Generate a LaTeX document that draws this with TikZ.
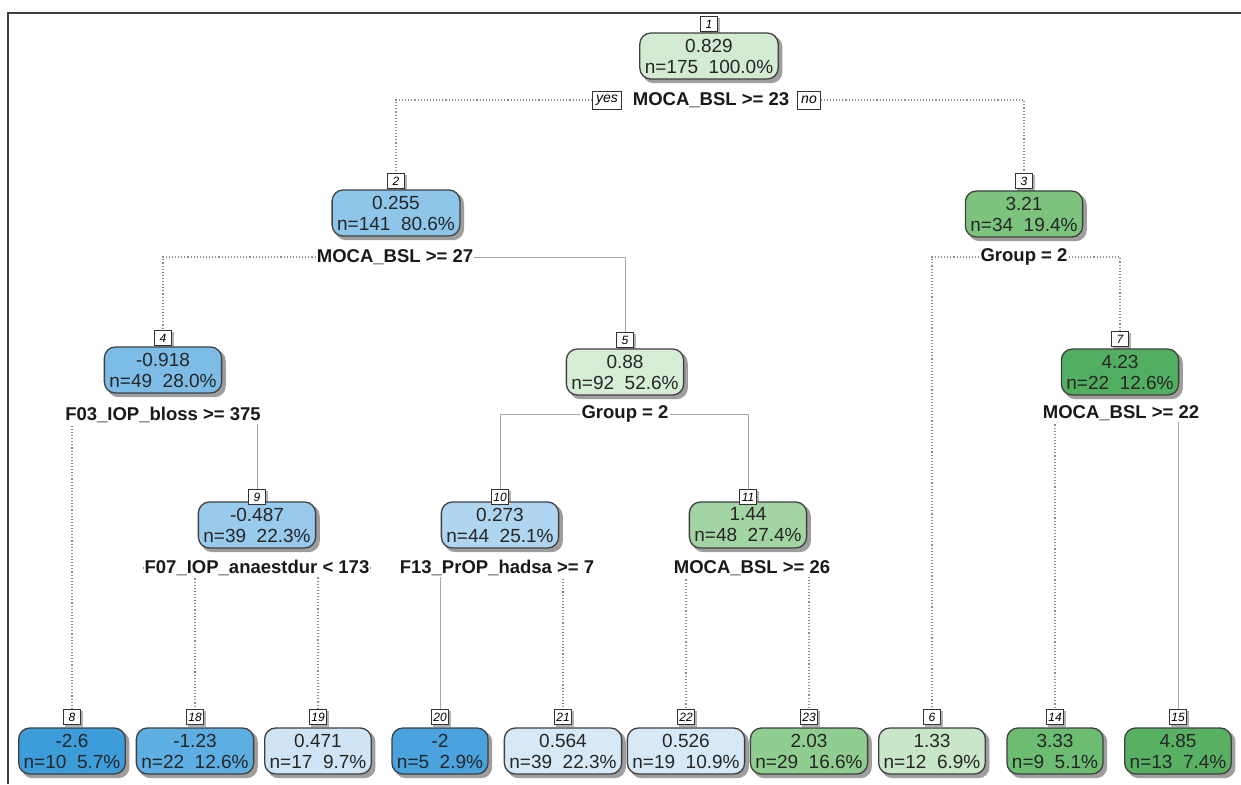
\documentclass[tikz,border=0pt]{standalone}
\usepackage{fontspec}
\setmainfont{Liberation Sans}
\usetikzlibrary{backgrounds}
\definecolor{g1}{HTML}{D3EAD3}
\definecolor{g5}{HTML}{D6EDD6}
\definecolor{g11}{HTML}{A3D4A3}
\definecolor{g3}{HTML}{7CC47E}
\definecolor{g7}{HTML}{52AF62}
\definecolor{g23}{HTML}{90CD90}
\definecolor{g6}{HTML}{C8E6C8}
\definecolor{g14}{HTML}{6CBC72}
\definecolor{g15}{HTML}{58B163}
\definecolor{b2}{HTML}{8EC6EA}
\definecolor{b4}{HTML}{7CBCE7}
\definecolor{b9}{HTML}{98CAEC}
\definecolor{b10}{HTML}{AFD5F0}
\definecolor{b8}{HTML}{3D9DDB}
\definecolor{b20}{HTML}{4AA3DE}
\definecolor{b18}{HTML}{5DAEE2}
\definecolor{b19}{HTML}{CFE4F4}
\definecolor{b21}{HTML}{D7E9F6}
\definecolor{b22}{HTML}{D7E9F6}
\begin{document}
\begin{tikzpicture}[x=1pt,y=-1pt,
  box/.style={draw=black!75, line width=1.3pt, rounded corners=11pt, align=center,
    font=\fontsize{19}{21}\selectfont, text=black!85, inner xsep=5pt, inner ysep=2pt,
    minimum height=46pt},
  lab/.style={draw=black!80, fill=white, line width=0.8pt,
    font=\fontsize{12}{13}\selectfont\itshape, inner sep=1pt,
    minimum width=17pt, minimum height=15pt},
  yn/.style={draw=black!80, fill=white, line width=0.8pt,
    font=\fontsize{14}{15}\selectfont\itshape, inner xsep=3.5pt, inner ysep=1pt,
    minimum height=18pt},
  splitlab/.style={font=\fontsize{18.5}{20}\selectfont\bfseries, text=black!90,
    fill=white, inner xsep=1pt, inner ysep=1pt},
  shade/.style={fill=black!38, rounded corners=11pt},
  labshade/.style={fill=black!30},
  br/.style={black!45, line width=1.1pt, dotted},
  brs/.style={black!35, line width=0.8pt}]
\useasboundingbox (0,0) rectangle (1241,784);
\draw[black!75, line width=2pt] (8,784) -- (8,13) -- (1241,13);

% ---- node 1
\node[box, fill=g1] (n1) at (709,56) {0.829\\n=175\ \ 100.0\%};
\node[lab] (l1) at (709,24) {1};
\node[splitlab] (s1) at (711,100) {MOCA\_BSL >= 23};
\node[yn] (yes) at (607,100) {yes};
\node[yn] (no) at (809,100) {no};

% ---- level 2
\node[box, fill=b2] (n2) at (396,213) {0.255\\n=141\ \ 80.6\%};
\node[lab] (l2) at (396,181) {2};
\node[splitlab] (s2) at (395,257) {MOCA\_BSL >= 27};
\node[box, fill=g3] (n3) at (1024,214) {3.21\\n=34\ \ 19.4\%};
\node[lab] (l3) at (1024,181) {3};
\node[splitlab] (s3) at (1024,257) {Group = 2};

% ---- level 3
\node[box, fill=b4] (n4) at (163,370) {-0.918\\n=49\ \ 28.0\%};
\node[lab] (l4) at (163,338) {4};
\node[splitlab] (s4) at (163,415) {F03\_IOP\_bloss >= 375};
\node[box, fill=g5] (n5) at (625,372) {0.88\\n=92\ \ 52.6\%};
\node[lab] (l5) at (625,340) {5};
\node[splitlab] (s5) at (625,414) {Group = 2};
\node[box, fill=g7] (n7) at (1120,372) {4.23\\n=22\ \ 12.6\%};
\node[lab] (l7) at (1120,339) {7};
\node[splitlab] (s7) at (1121,413) {MOCA\_BSL >= 22};

% ---- level 4
\node[box, fill=b9] (n9) at (257,525) {-0.487\\n=39\ \ 22.3\%};
\node[lab] (l9) at (257,497) {9};
\node[splitlab] (s9) at (257,568) {F07\_IOP\_anaestdur < 173};
\node[box, fill=b10] (n10) at (500,525) {0.273\\n=44\ \ 25.1\%};
\node[lab] (l10) at (500,497) {10};
\node[splitlab] (s10) at (497,568) {F13\_PrOP\_hadsa >= 7};
\node[box, fill=g11] (n11) at (748,525) {1.44\\n=48\ \ 27.4\%};
\node[lab] (l11) at (748,497) {11};
\node[splitlab] (s11) at (752,568) {MOCA\_BSL >= 26};

% ---- leaves
\node[box, fill=b8]  (n8)  at (72,751)   {-2.6\\n=10\ \ 5.7\%};
\node[lab] (l8) at (72,717) {8};
\node[box, fill=b18] (n18) at (195,751)  {-1.23\\n=22\ \ 12.6\%};
\node[lab] (l18) at (195,717) {18};
\node[box, fill=b19] (n19) at (318,751)  {0.471\\n=17\ \ 9.7\%};
\node[lab] (l19) at (318,717) {19};
\node[box, fill=b20] (n20) at (440,751)  {-2\\n=5\ \ 2.9\%};
\node[lab] (l20) at (440,717) {20};
\node[box, fill=b21] (n21) at (563,751)  {0.564\\n=39\ \ 22.3\%};
\node[lab] (l21) at (563,717) {21};
\node[box, fill=b22] (n22) at (686,751)  {0.526\\n=19\ \ 10.9\%};
\node[lab] (l22) at (686,717) {22};
\node[box, fill=g23] (n23) at (809,751)  {2.03\\n=29\ \ 16.6\%};
\node[lab] (l23) at (809,717) {23};
\node[box, fill=g6]  (n6)  at (932,751)  {1.33\\n=12\ \ 6.9\%};
\node[lab] (l6) at (932,717) {6};
\node[box, fill=g14] (n14) at (1055,751) {3.33\\n=9\ \ 5.1\%};
\node[lab] (l14) at (1055,717) {14};
\node[box, fill=g15] (n15) at (1178,751) {4.85\\n=13\ \ 7.4\%};
\node[lab] (l15) at (1178,717) {15};

% ---- background: shadows and branches
\begin{pgfonlayer}{background}
\fill[white] (0,0) rectangle (1241,784);
\foreach \n in {n1,n2,n3,n4,n5,n7,n9,n10,n11,n8,n18,n19,n20,n21,n22,n23,n6,n14,n15}
  \fill[shade] ([shift={(3.5,3.5)}]\n.south west) rectangle ([shift={(3.5,3.5)}]\n.north east);
\foreach \n in {l1,l2,l3,l4,l5,l7,l9,l10,l11,l8,l18,l19,l20,l21,l22,l23,l6,l14,l15}
  \fill[labshade] ([shift={(2,2)}]\n.south west) rectangle ([shift={(2,2)}]\n.north east);
\draw[br]  (yes.west) -| (l2.north);
\draw[br]  (no.east)  -| (l3.north);
\draw[br]  (s2.west)  -| (l4.north);
\draw[brs] (s2.east)  -| (l5.north);
\draw[br]  (s3.west)  -| (l6.north);
\draw[br]  (s3.east)  -| (l7.north);
\draw[br]  (s4.west)  -| (l8.north);
\draw[brs] (s4.east)  -| (l9.north);
\draw[brs] (s5.west)  -| (l10.north);
\draw[brs] (s5.east)  -| (l11.north);
\draw[br]  (s7.west)  -| (l14.north);
\draw[brs] (s7.east)  -| (l15.north);
\draw[br]  (s9.west)  -| (l18.north);
\draw[br]  (s9.east)  -| (l19.north);
\draw[brs] (s10.west) -| (l20.north);
\draw[br]  (s10.east) -| (l21.north);
\draw[br]  (s11.west) -| (l22.north);
\draw[br]  (s11.east) -| (l23.north);
\end{pgfonlayer}
\end{tikzpicture}
\end{document}
